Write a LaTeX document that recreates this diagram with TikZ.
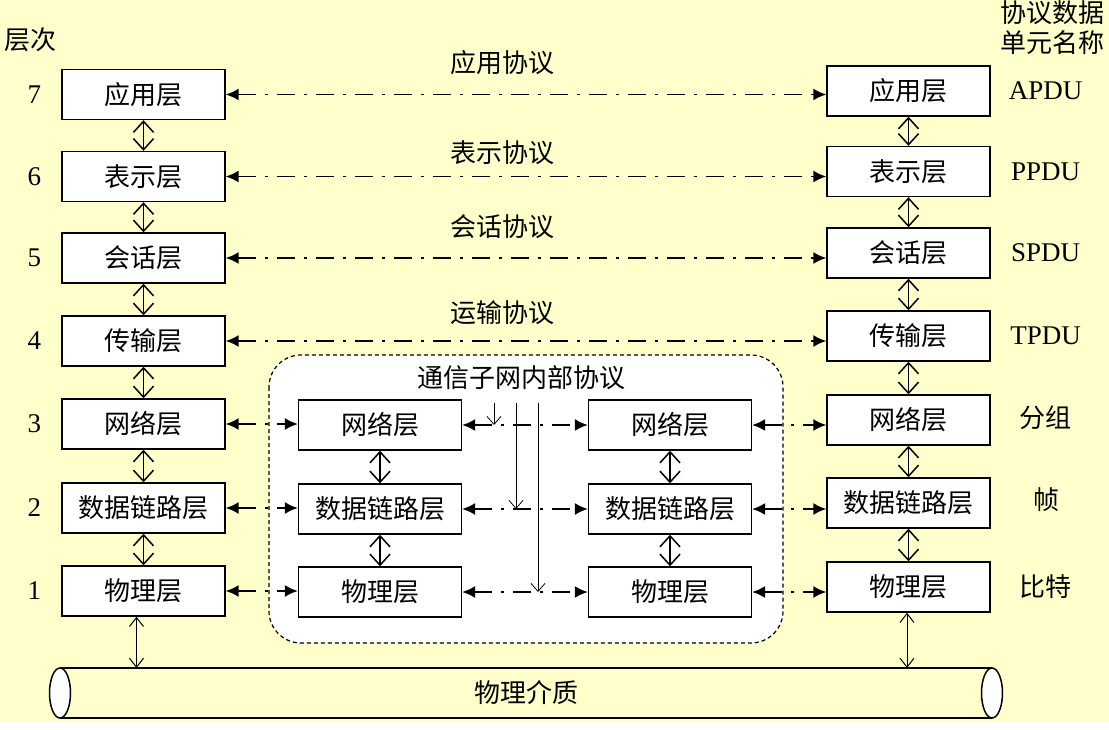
\documentclass[tikz,border=0pt]{standalone}
\usepackage{fontspec}
\setmainfont{Liberation Serif}
\newfontfamily\cjk{Noto Sans CJK SC}
\usetikzlibrary{arrows.meta,positioning,calc}
\definecolor{hint}{HTML}{FFFFCC}
\tikzset{
  schicht/.style={draw,fill=white,line width=1.4pt,minimum width=163pt,minimum height=50pt,inner sep=0pt,font=\cjk\fontsize{26}{30}\selectfont},
  stapel/.style={{Straight Barb[length=11pt,width=20pt]}-{Straight Barb[length=11pt,width=20pt]},line width=1.5pt},
  proto/.style={{Latex[length=13pt,width=12pt]}-{Latex[length=13pt,width=12pt]},line width=1.6pt,dash pattern=on 18pt off 9pt on 3pt off 9pt},
  medium/.style={{Straight Barb[length=9pt,width=14pt]}-{Straight Barb[length=9pt,width=14pt]},line width=1pt},
  duenn/.style={-{Straight Barb[length=8pt,width=14pt]},line width=0.8pt},
  txt/.style={font=\cjk\fontsize{26}{30}\selectfont,inner sep=0pt},
  num/.style={font=\fontsize{27}{30}\selectfont,inner sep=0pt},
}

\begin{document}
\begin{tikzpicture}[x=1pt,y=-1pt]
  \useasboundingbox (0,0) rectangle (1109,729);
  \fill[hint] (0,0) rectangle (1109,722);
  \fill[white] (0,722) rectangle (1109,729);

  % Kommunikationsteilnetz
  \draw[fill=white,line width=1.2pt,dash pattern=on 4pt off 3pt,rounded corners=32pt] (269,355) rectangle (783,643);
  \node[txt] (titel) at (521,378) {通信子网内部协议};

  % linker Stapel
  \node[schicht] (l7) at (143.5,94.5) {应用层};
  \node[schicht] (l6) at (143.5,176.5) {表示层};
  \node[schicht] (l5) at (143.5,258) {会话层};
  \node[schicht] (l4) at (143.5,341) {传输层};
  \node[schicht] (l3) at (143.5,424) {网络层};
  \node[schicht] (l2) at (143.5,508) {数据链路层};
  \node[schicht] (l1) at (143.5,591) {物理层};

  % rechter Stapel
  \node[schicht] (r7) at (908.5,91) {应用层};
  \node[schicht] (r6) at (908.5,171.5) {表示层};
  \node[schicht] (r5) at (908.5,253) {会话层};
  \node[schicht] (r4) at (908.5,336) {传输层};
  \node[schicht] (r3) at (908.5,420) {网络层};
  \node[schicht] (r2) at (908.5,503) {数据链路层};
  \node[schicht] (r1) at (908.5,587) {物理层};

  % Knoten im Teilnetz
  \node[schicht] (ml3) at (380,425) {网络层};
  \node[schicht] (ml2) at (380,509) {数据链路层};
  \node[schicht] (ml1) at (380,592) {物理层};
  \node[schicht] (mr3) at (670,425) {网络层};
  \node[schicht] (mr2) at (670,509) {数据链路层};
  \node[schicht] (mr1) at (670,592) {物理层};

  % Schichtnummern
  \node[num,left=20pt of l7] {7};
  \node[num,left=20pt of l6] {6};
  \node[num,left=20pt of l5] {5};
  \node[num,left=20pt of l4] {4};
  \node[num,left=20pt of l3] {3};
  \node[num,left=20pt of l2] {2};
  \node[num,left=20pt of l1] {1};
  \node[txt] (kopfl) at (31,40) {层次};
  \node[txt,anchor=west] (kopfr1) at (1000,13) {协议数据};
  \node[txt,anchor=west] (kopfr2) at (1000,43) {单元名称};

  % Dateneinheiten
  \node[num] at ($(r7.east)+(55,0)$) {APDU};
  \node[num] at ($(r6.east)+(55,0)$) {PPDU};
  \node[num] at ($(r5.east)+(55,0)$) {SPDU};
  \node[num] at ($(r4.east)+(55,0)$) {TPDU};
  \node[txt] at ($(r3.east)+(55,-2)$) {分组};
  \node[txt] at ($(r2.east)+(56,-3)$) {帧};
  \node[txt] at ($(r1.east)+(55,0)$) {比特};

  % Protokolle Ende zu Ende
  \draw[proto] (l7.east) -- (l7.east -| r7.west);
  \draw[proto] (l6.east) -- (l6.east -| r6.west);
  \draw[proto] (l5.east) -- (l5.east -| r5.west);
  \draw[proto] (l4.east) -- (l4.east -| r4.west);
  \node[txt] at (502,63) {应用协议};
  \node[txt] at (502,153) {表示协议};
  \node[txt] at (502,227) {会话协议};
  \node[txt] at (502,313) {运输协议};

  % Protokolle im Teilnetz
  \foreach \i in {1,2,3} {
    \draw[proto] (l\i.east) -- (l\i.east -| ml\i.west);
    \draw[proto] (ml\i.east) -- (ml\i.east -| mr\i.west);
    \draw[proto] (mr\i.east) -- (mr\i.east -| r\i.west);
  }

  % Schnittstellen
  \foreach \a/\b in {7/6,6/5,5/4,4/3,3/2,2/1} {
    \draw[stapel] (l\a) -- (l\b);
    \draw[stapel] (r\a) -- (r\b);
  }
  \draw[stapel] (ml3) -- (ml2);
  \draw[stapel] (ml2) -- (ml1);
  \draw[stapel] (mr3) -- (mr2);
  \draw[stapel] (mr2) -- (mr1);

  % duenne Pfeile
  \coordinate (s3) at (494,403);
  \coordinate (s2) at (516,403);
  \coordinate (s1) at (538,403);
  \draw[duenn] (s3) -- (s3 |- ml3.east);
  \draw[duenn] (s2) -- (s2 |- ml2.east);
  \draw[duenn] (s1) -- (s1 |- ml1.east);

  % Medium
  \fill[hint] (60,668) rectangle (992,718);
  \draw[line width=1.5pt] (60,668) -- (992,668) (60,718) -- (992,718);
  \draw[line width=1.5pt,fill=white] (60,693) ellipse (10.5 and 25);
  \draw[line width=1.5pt,fill=white] (992,693) ellipse (10.5 and 25);
  \node[txt] (med) at (526,693) {物理介质};
  \coordinate (kl) at (136.5,668);
  \coordinate (kr) at (907,668);
  \draw[medium] (kl |- l1.south) -- (kl);
  \draw[medium] (kr |- r1.south) -- (kr);
\end{tikzpicture}
\end{document}
